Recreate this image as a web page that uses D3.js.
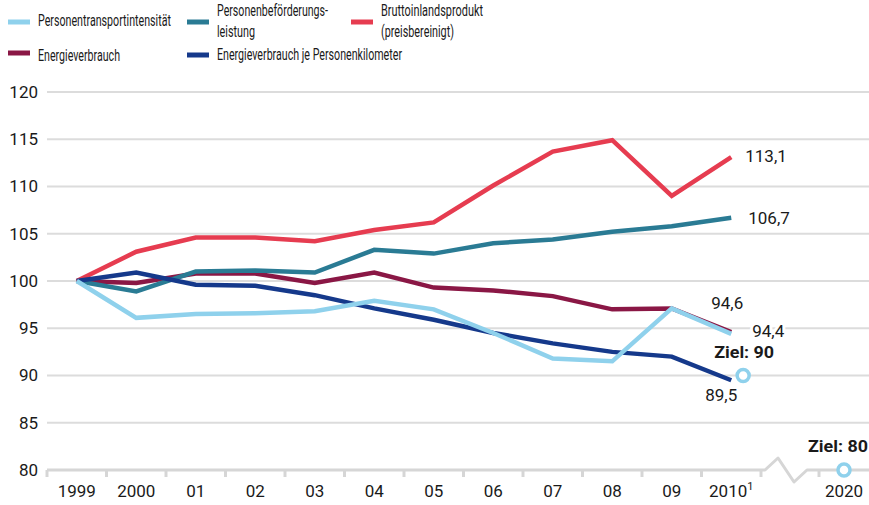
<!DOCTYPE html>
<html>
<head>
<meta charset="utf-8">
<script src="https://cdn.jsdelivr.net/npm/d3@7"></script>
<style>
  body { margin: 0; background: #fff; }
  text { font-family: "Roboto", "Open Sans", sans-serif; fill: #1a1a1a; }
  .lbl { paint-order: stroke; stroke: #fff; stroke-width: 6px; }
</style>
</head>
<body>
<svg id="chart" width="869" height="505"></svg>
<script>
// years and tick labels
const years = [1999, 2000, 2001, 2002, 2003, 2004, 2005, 2006, 2007, 2008, 2009, 2010];
const yearLabels = ["1999", "2000", "01", "02", "03", "04", "05", "06", "07", "08", "09", "2010"];
const yTicks = [80, 85, 90, 95, 100, 105, 110, 115, 120];

// series (1999 = 100)
const intensitaet = [100, 96.1, 96.5, 96.6, 96.8, 97.9, 97.0, 94.5, 91.8, 91.5, 97.1, 94.4];
const leistung    = [100, 98.9, 101.0, 101.1, 100.9, 103.3, 102.9, 104.0, 104.4, 105.2, 105.8, 106.7];
const bip         = [100, 103.1, 104.6, 104.6, 104.2, 105.4, 106.2, 110.1, 113.7, 114.9, 109.0, 113.1];
const energie     = [100, 99.8, 100.8, 100.8, 99.8, 100.9, 99.3, 99.0, 98.4, 97.0, 97.1, 94.6];
const energiePkm  = [100, 100.9, 99.6, 99.5, 98.5, 97.1, 95.9, 94.5, 93.4, 92.5, 92.0, 89.5];

// targets
const targetYears = [2010.2, 2020];
const targetValues = [90, 80];
const targetLabels = ["Ziel: 90", "Ziel: 80"];

const series = [
  { name: "Personentransportintensität", values: intensitaet, color: "#8fd1ec" },
  { name: "Personenbeförderungs-|leistung", values: leistung, color: "#2a7b94" },
  { name: "Bruttoinlandsprodukt|(preisbereinigt)", values: bip, color: "#e63c50" },
  { name: "Energieverbrauch", values: energie, color: "#8a1745" },
  { name: "Energieverbrauch je Personenkilometer", values: energiePkm, color: "#15398b" }
];

const svg = d3.select("#chart");

// piecewise x scale with axis break between 2010 and 2020
const x = d3.scaleLinear()
  .domain([1998.5, 2010.5, 2019.5, 2020.5])
  .range([47, 761, 819, 869]);
const y = d3.scaleLinear().domain([80, 120]).range([470, 92]);

// grid
svg.append("g").selectAll("line")
  .data(yTicks.filter(d => d > 80))
  .join("line")
  .attr("x1", 47).attr("x2", 869)
  .attr("y1", d => y(d)).attr("y2", d => y(d))
  .attr("stroke", "#dcdcdc").attr("stroke-width", 2);

svg.append("g").selectAll("text")
  .data(yTicks)
  .join("text")
  .attr("x", 38).attr("y", d => y(d))
  .attr("dy", "0.35em")
  .attr("text-anchor", "end")
  .style("font-size", "17px")
  .text(d => d);

// bottom axis with break
const axisCol = "#d6d6d6";
const y0 = y(80);
const bx0 = x(2010.5);
svg.append("path")
  .attr("d", `M${x(1998.5)},${y0}H${bx0 + 4}L${bx0 + 17},${y0 - 12}L${bx0 + 33},${y0 + 12}L${bx0 + 46},${y0}H869`)
  .attr("fill", "none").attr("stroke", axisCol).attr("stroke-width", 3)
  .attr("stroke-linejoin", "round");

const tickPos = years.map(d => d - 0.5).concat([2010.5, 2019.5]);
svg.append("g").selectAll("line")
  .data(tickPos)
  .join("line")
  .attr("x1", d => x(d)).attr("x2", d => x(d))
  .attr("y1", y0).attr("y2", y0 + 7)
  .attr("stroke", axisCol).attr("stroke-width", 3);

const xl = svg.append("g").selectAll("text")
  .data(years.map((d, i) => ({ year: d, label: yearLabels[i] })).concat([{ year: 2020, label: "2020" }]))
  .join("text")
  .attr("x", d => x(d.year)).attr("y", 497)
  .attr("text-anchor", "middle")
  .style("font-size", "17px");
xl.append("tspan").text(d => d.label);
xl.filter(d => d.year === 2010).append("tspan")
  .attr("dy", -7).style("font-size", "11px").text("1");

// lines
const line = d3.line()
  .x((d, i) => x(years[i]))
  .y(d => y(d));

const order = [3, 1, 2, 4, 0];
svg.append("g").selectAll("path")
  .data(order.map(i => series[i]))
  .join("path")
  .attr("d", d => line(d.values))
  .attr("fill", "none")
  .attr("stroke", d => d.color)
  .attr("stroke-width", 4.5)
  .attr("stroke-linejoin", "miter");

// end labels
const endLabels = [
  { v: bip[11], text: "113,1", dx: 14, dy: -1 },
  { v: leistung[11], text: "106,7", dx: 17, dy: 0 },
  { v: energie[11], text: "94,6", dx: -20, dy: -29 },
  { v: intensitaet[11], text: "94,4", dx: 21, dy: -3 },
  { v: energiePkm[11], text: "89,5", dx: -26, dy: 15 }
];
svg.append("g").selectAll("text")
  .data(endLabels)
  .join("text")
  .attr("class", "lbl")
  .attr("x", d => x(2010) + d.dx)
  .attr("y", d => y(d.v) + d.dy)
  .attr("dy", "0.35em")
  .style("font-size", "17px")
  .text(d => d.text);

// targets
const targetDx = [1, -6];
const tg = svg.append("g");
tg.selectAll("circle")
  .data(targetValues)
  .join("circle")
  .attr("cx", (d, i) => x(targetYears[i]))
  .attr("cy", d => y(d))
  .attr("r", 6)
  .attr("fill", "#fff")
  .attr("stroke", "#8fd1ec")
  .attr("stroke-width", 3.5);
tg.selectAll("text")
  .data(targetValues)
  .join("text")
  .attr("class", "lbl")
  .attr("x", (d, i) => x(targetYears[i]) + targetDx[i])
  .attr("y", d => y(d) - 18)
  .attr("text-anchor", "middle")
  .style("font-size", "16px")
  .style("font-weight", "bold")
  .attr("textLength", 60)
  .attr("lengthAdjust", "spacingAndGlyphs")
  .text((d, i) => targetLabels[i]);

// legend layout: [swatch x, swatch y, baseline of first line, widths of text lines]
const legendLayout = [
  { x: 8, y: 22, base: 4, w: [133] },
  { x: 187, y: 22, base: -6, w: [111, 38] },
  { x: 351, y: 22, base: -6, w: [102, 73] },
  { x: 8, y: 53, base: 8, w: [82] },
  { x: 187, y: 55, base: 5, w: [185] }
];
const lg = svg.append("g").selectAll("g")
  .data(series)
  .join("g")
  .attr("transform", (d, i) => `translate(${legendLayout[i].x},${legendLayout[i].y})`);
lg.append("line")
  .attr("x1", 0).attr("x2", 22)
  .attr("stroke", d => d.color).attr("stroke-width", 5);
lg.each(function(d, i) {
  const L = legendLayout[i];
  const t = d3.select(this).append("text")
    .style("font-size", "16.5px");
  d.name.split("|").forEach((p, k) => {
    t.append("tspan")
      .attr("x", 30)
      .attr("y", L.base + k * 21)
      .attr("textLength", L.w[k])
      .attr("lengthAdjust", "spacingAndGlyphs")
      .text(p);
  });
});
</script>
</body>
</html>
